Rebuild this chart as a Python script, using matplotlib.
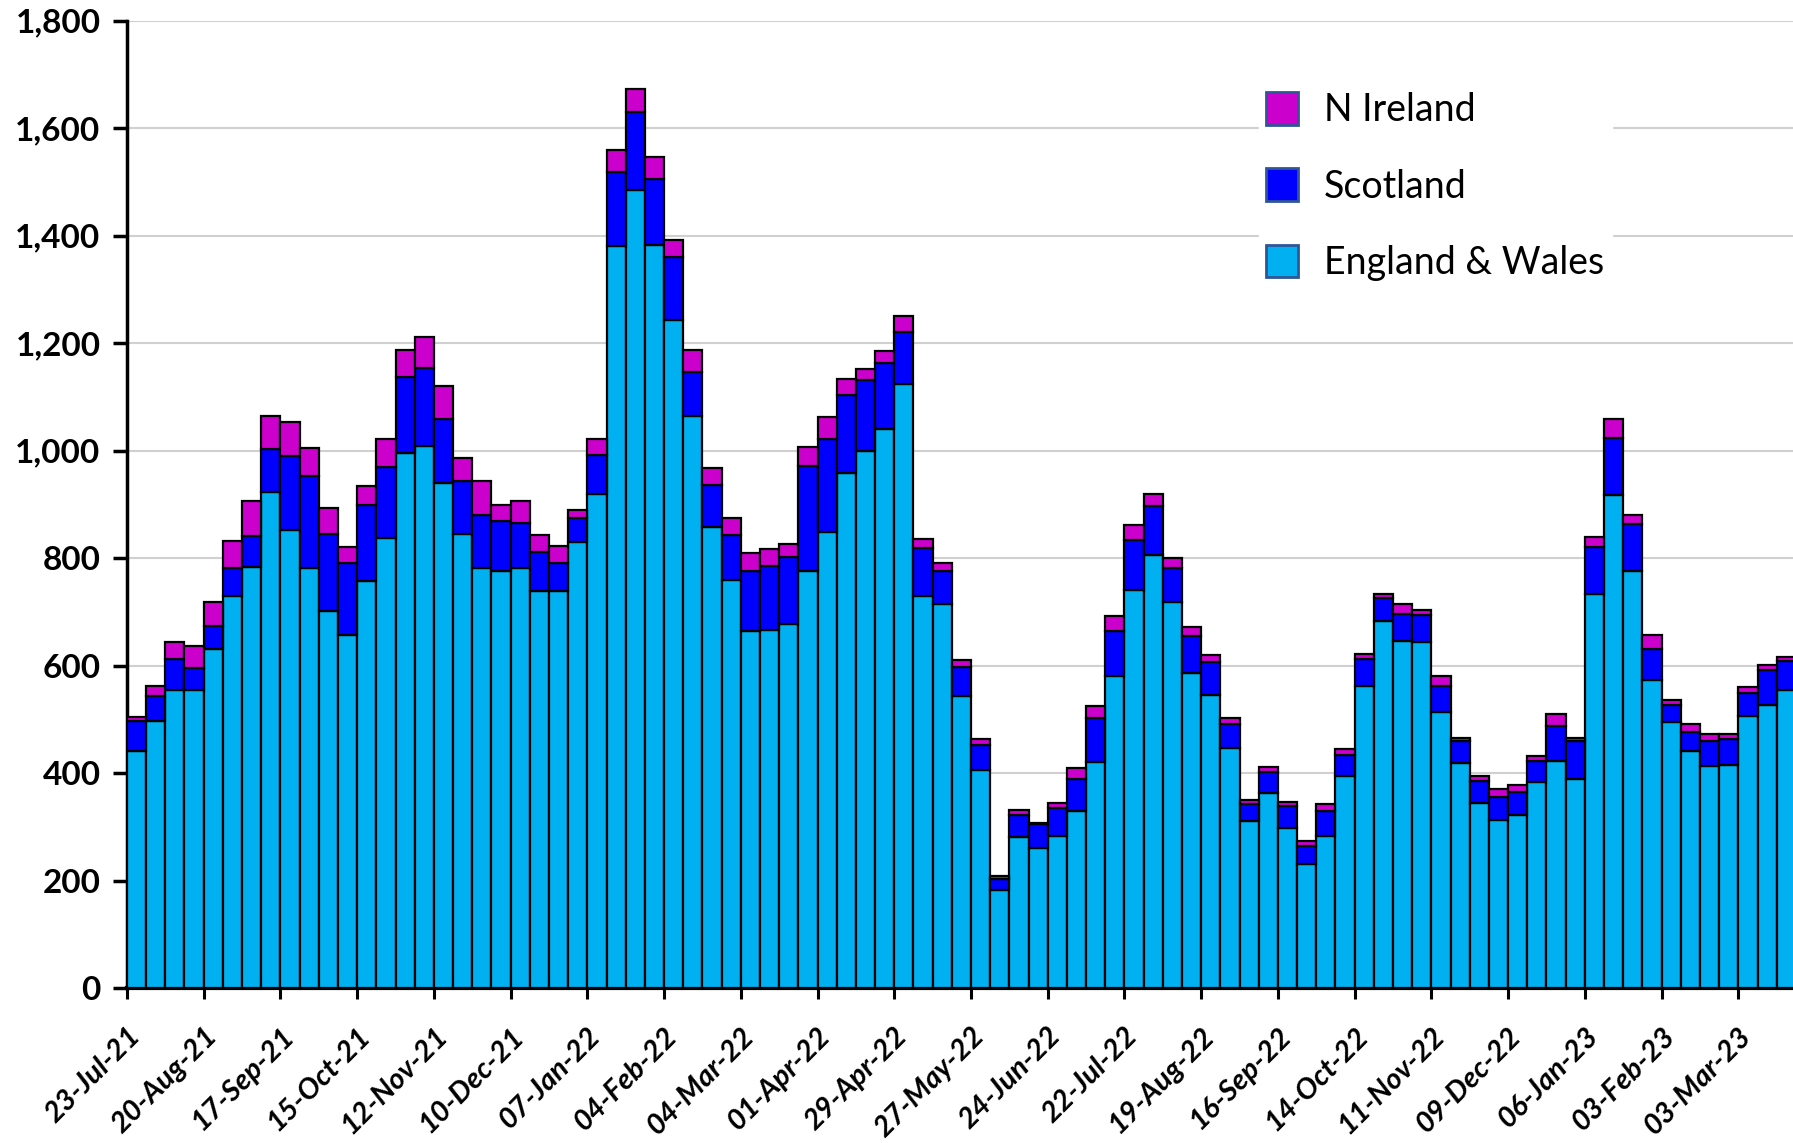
import numpy as np
import matplotlib.pyplot as plt
import matplotlib.transforms as mtransforms
from matplotlib.patches import Patch

# weekly values, 23-Jul-21 onwards
eng_wales = [441, 496, 555, 554, 631, 729, 784, 922, 852, 781,
             701, 657, 757, 838, 996, 1008, 939, 845, 781, 776,
             781, 739, 739, 829, 919, 1380, 1484, 1383, 1242, 1064,
             858, 760, 665, 667, 678, 776, 849, 958, 1000, 1040,
             1123, 729, 715, 544, 406, 183, 281, 261, 283, 329,
             420, 581, 740, 805, 719, 587, 546, 447, 311, 363,
             297, 231, 283, 394, 562, 682, 646, 644, 514, 418,
             345, 313, 322, 384, 423, 388, 734, 918, 776, 574,
             495, 441, 413, 414, 507, 527, 554]
scotland = [55, 48, 57, 42, 42, 52, 57, 80, 137, 171,
            144, 133, 141, 132, 141, 146, 119, 98, 99, 92,
            85, 72, 51, 46, 73, 138, 146, 123, 118, 83,
            77, 82, 111, 119, 124, 196, 173, 145, 131, 122,
            97, 89, 61, 54, 46, 20, 41, 44, 52, 59,
            83, 84, 93, 92, 62, 68, 60, 44, 31, 39,
            41, 34, 47, 40, 50, 44, 49, 50, 48, 42,
            41, 43, 43, 39, 65, 71, 86, 105, 87, 57,
            32, 36, 46, 50, 41, 65, 55]
n_ireland = [9, 18, 32, 41, 46, 50, 65, 62, 64, 53,
             48, 30, 36, 51, 50, 57, 62, 44, 64, 31,
             41, 32, 32, 15, 29, 42, 42, 40, 31, 40,
             33, 33, 34, 31, 24, 35, 40, 31, 21, 23,
             30, 17, 14, 13, 12, 6, 10, 2, 9, 21,
             22, 27, 28, 23, 20, 16, 13, 12, 7, 9,
             9, 8, 12, 11, 9, 7, 20, 9, 18, 6,
             9, 14, 12, 8, 22, 7, 20, 35, 17, 26,
             8, 14, 13, 8, 12, 9, 7]

tick_labels = ["23-Jul-21", "20-Aug-21", "17-Sep-21", "15-Oct-21", "12-Nov-21",
               "10-Dec-21", "07-Jan-22", "04-Feb-22", "04-Mar-22", "01-Apr-22",
               "29-Apr-22", "27-May-22", "24-Jun-22", "22-Jul-22", "19-Aug-22",
               "16-Sep-22", "14-Oct-22", "11-Nov-22", "09-Dec-22", "06-Jan-23",
               "03-Feb-23", "03-Mar-23"]

c_ew = "#00B0F0"
c_sc = "#0000FF"
c_ni = "#CC00CC"

plt.rcParams['font.family'] = ['Lato', 'DejaVu Sans']

fig = plt.figure(figsize=(17.93, 11.43), dpi=100)
ax = fig.add_axes([0.0708, 0.1356, 0.9292, 0.8464])

x = np.arange(len(eng_wales))
ew = np.array(eng_wales)
sc = np.array(scotland)
ni = np.array(n_ireland)

kw = dict(width=1.0, align='edge', edgecolor='black', linewidth=1.6, zorder=3)
ax.bar(x, ew, color=c_ew, **kw)
ax.bar(x, sc, bottom=ew, color=c_sc, **kw)
ax.bar(x, ni, bottom=ew + sc, color=c_ni, **kw)

ax.set_xlim(0, 86.85)
ax.set_ylim(0, 1800)
ax.set_yticks(np.arange(0, 1801, 200))
ax.set_yticklabels([f"{v:,}" for v in range(0, 1801, 200)],
                   fontsize=24, fontweight='bold')
ax.set_xticks(np.arange(0, len(tick_labels) * 4, 4))
ax.set_xticklabels(tick_labels, rotation=45, ha='right', rotation_mode='anchor',
                   fontsize=21, fontweight='bold', fontstyle='italic')

# labels sit a little right of their ticks
shift = mtransforms.ScaledTranslation(0.14, 0, fig.dpi_scale_trans)
for lab in ax.get_xticklabels():
    lab.set_transform(lab.get_transform() + shift)

ax.grid(axis='y', color='#d0d0d0', linewidth=1.5, zorder=0)
ax.spines['top'].set_visible(False)
ax.spines['right'].set_visible(False)
ax.spines['left'].set_linewidth(2.5)
ax.spines['bottom'].set_linewidth(3)
ax.tick_params(axis='y', length=10, width=2.5, pad=9)
ax.tick_params(axis='x', length=8, width=2.2, pad=17)

handles = [Patch(facecolor=c_ni, edgecolor='#2F5597', linewidth=2, label='N Ireland'),
           Patch(facecolor=c_sc, edgecolor='#2F5597', linewidth=2, label='Scotland'),
           Patch(facecolor=c_ew, edgecolor='#2F5597', linewidth=2, label='England & Wales')]
leg = ax.legend(handles=handles, loc='upper left', bbox_to_anchor=(0.668, 0.953),
                frameon=True, framealpha=1, edgecolor='white', fontsize=27,
                handlelength=0.85, handleheight=0.95, handletextpad=0.7,
                labelspacing=1.07, borderpad=0.2)
leg.set_zorder(5)

plt.savefig("out.png", dpi=100)
